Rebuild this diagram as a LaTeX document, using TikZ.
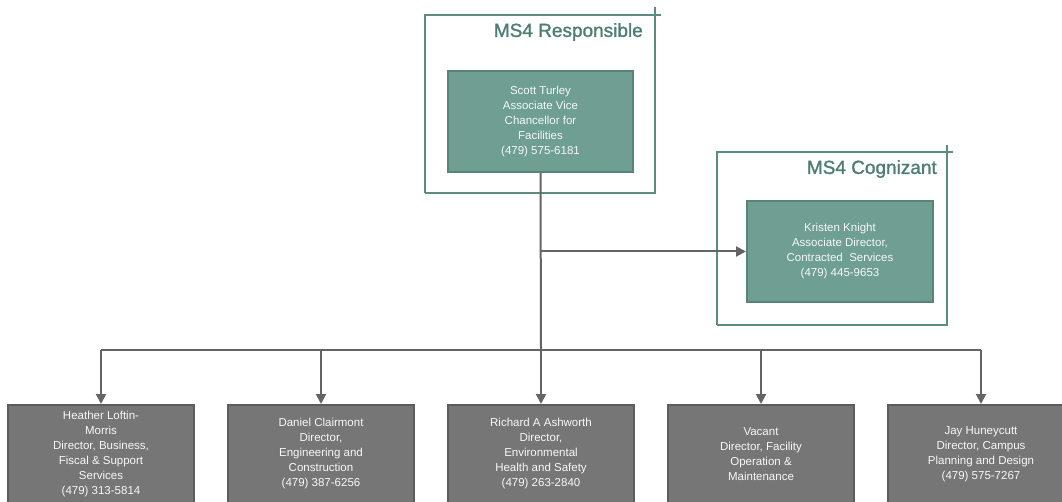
\documentclass[tikz,border=0pt]{standalone}
\usepackage{fontspec}
\setmainfont{Liberation Sans}
\newfontfamily\titlefont{Liberation Sans}[FakeBold=1.3]
\usetikzlibrary{arrows.meta}
\definecolor{tealfill}{RGB}{111,158,146}
\definecolor{tealedge}{RGB}{88,132,120}
\definecolor{framec}{RGB}{92,140,127}
\definecolor{titlec}{RGB}{78,126,113}
\definecolor{grayfill}{RGB}{118,118,118}
\definecolor{grayedge}{RGB}{92,92,92}
\definecolor{connc}{RGB}{100,100,100}
\tikzset{
  every node/.style={font=\fontsize{11.5}{15}\selectfont},
  tealbox/.style={draw=tealedge, line width=2pt, fill=tealfill, text=white!94!tealfill,
    minimum width=185pt, minimum height=101pt, align=center, inner sep=0pt},
  graybox/.style={draw=grayedge, line width=2pt, fill=grayfill, text=white!95!grayfill,
    minimum width=186pt, minimum height=98pt, align=center, inner sep=0pt},
  frame/.style={draw=framec, line width=2.4pt},
  title/.style={text=titlec, font=\titlefont\fontsize{19}{21}\selectfont, anchor=east, inner sep=0pt},
  conn/.style={draw=connc, line width=2pt},
  arr/.style={conn, -{Triangle[length=10pt,width=10pt]}}
}
\begin{document}
\begin{tikzpicture}[x=1pt,y=-1pt]
\clip (0,0) rectangle (1062,502);
\fill[white] (0,0) rectangle (1062,502);
% frames
\draw[frame] (425,193) -- (425,15) -- (661,15);
\draw[frame] (655,7) -- (655,193) -- (425,193);
\node[title] (t1) at (643,32) {MS4 Responsible};
\draw[frame] (717,325) -- (717,152) -- (953,152);
\draw[frame] (947,145) -- (947,325) -- (717,325);
\node[title] (t2) at (937,169) {MS4 Cognizant};
% boxes
\node[tealbox] (scott) at (540.5,121.5) {Scott Turley\\Associate Vice\\Chancellor for\\Facilities\\(479) 575-6181};
\node[tealbox, minimum width=186pt] (kristen) at (840,251.5) {Kristen Knight\\Associate Director,\\Contracted\ \ Services\\(479) 445-9653};
\node[graybox] (b1) at (101,454) {Heather Loftin-\\Morris\\Director, Business,\\Fiscal \& Support\\Services\\(479) 313-5814};
\node[graybox] (b2) at (321,454) {Daniel Clairmont\\Director,\\Engineering and\\Construction\\(479) 387-6256};
\node[graybox] (b3) at (541,454) {Richard A Ashworth\\Director,\\Environmental\\Health and Safety\\(479) 263-2840};
\node[graybox] (b4) at (761,454) {Vacant\\Director, Facility\\Operation \&\\Maintenance};
\node[graybox] (b5) at (981,454) {Jay Huneycutt\\Director, Campus\\Planning and Design\\(479) 575-7267};
% connectors
\coordinate (bus) at (541,350);
\coordinate (br) at (541,251.5);
\draw[conn] (scott.south) -- (bus);
\draw[arr] (br) -- (kristen.west);
\draw[conn] (b1.north |- bus) -- (b5.north |- bus);
\foreach \i in {1,...,5} {\draw[arr] (b\i.north |- bus) -- (b\i.north);}
\end{tikzpicture}
\end{document}
